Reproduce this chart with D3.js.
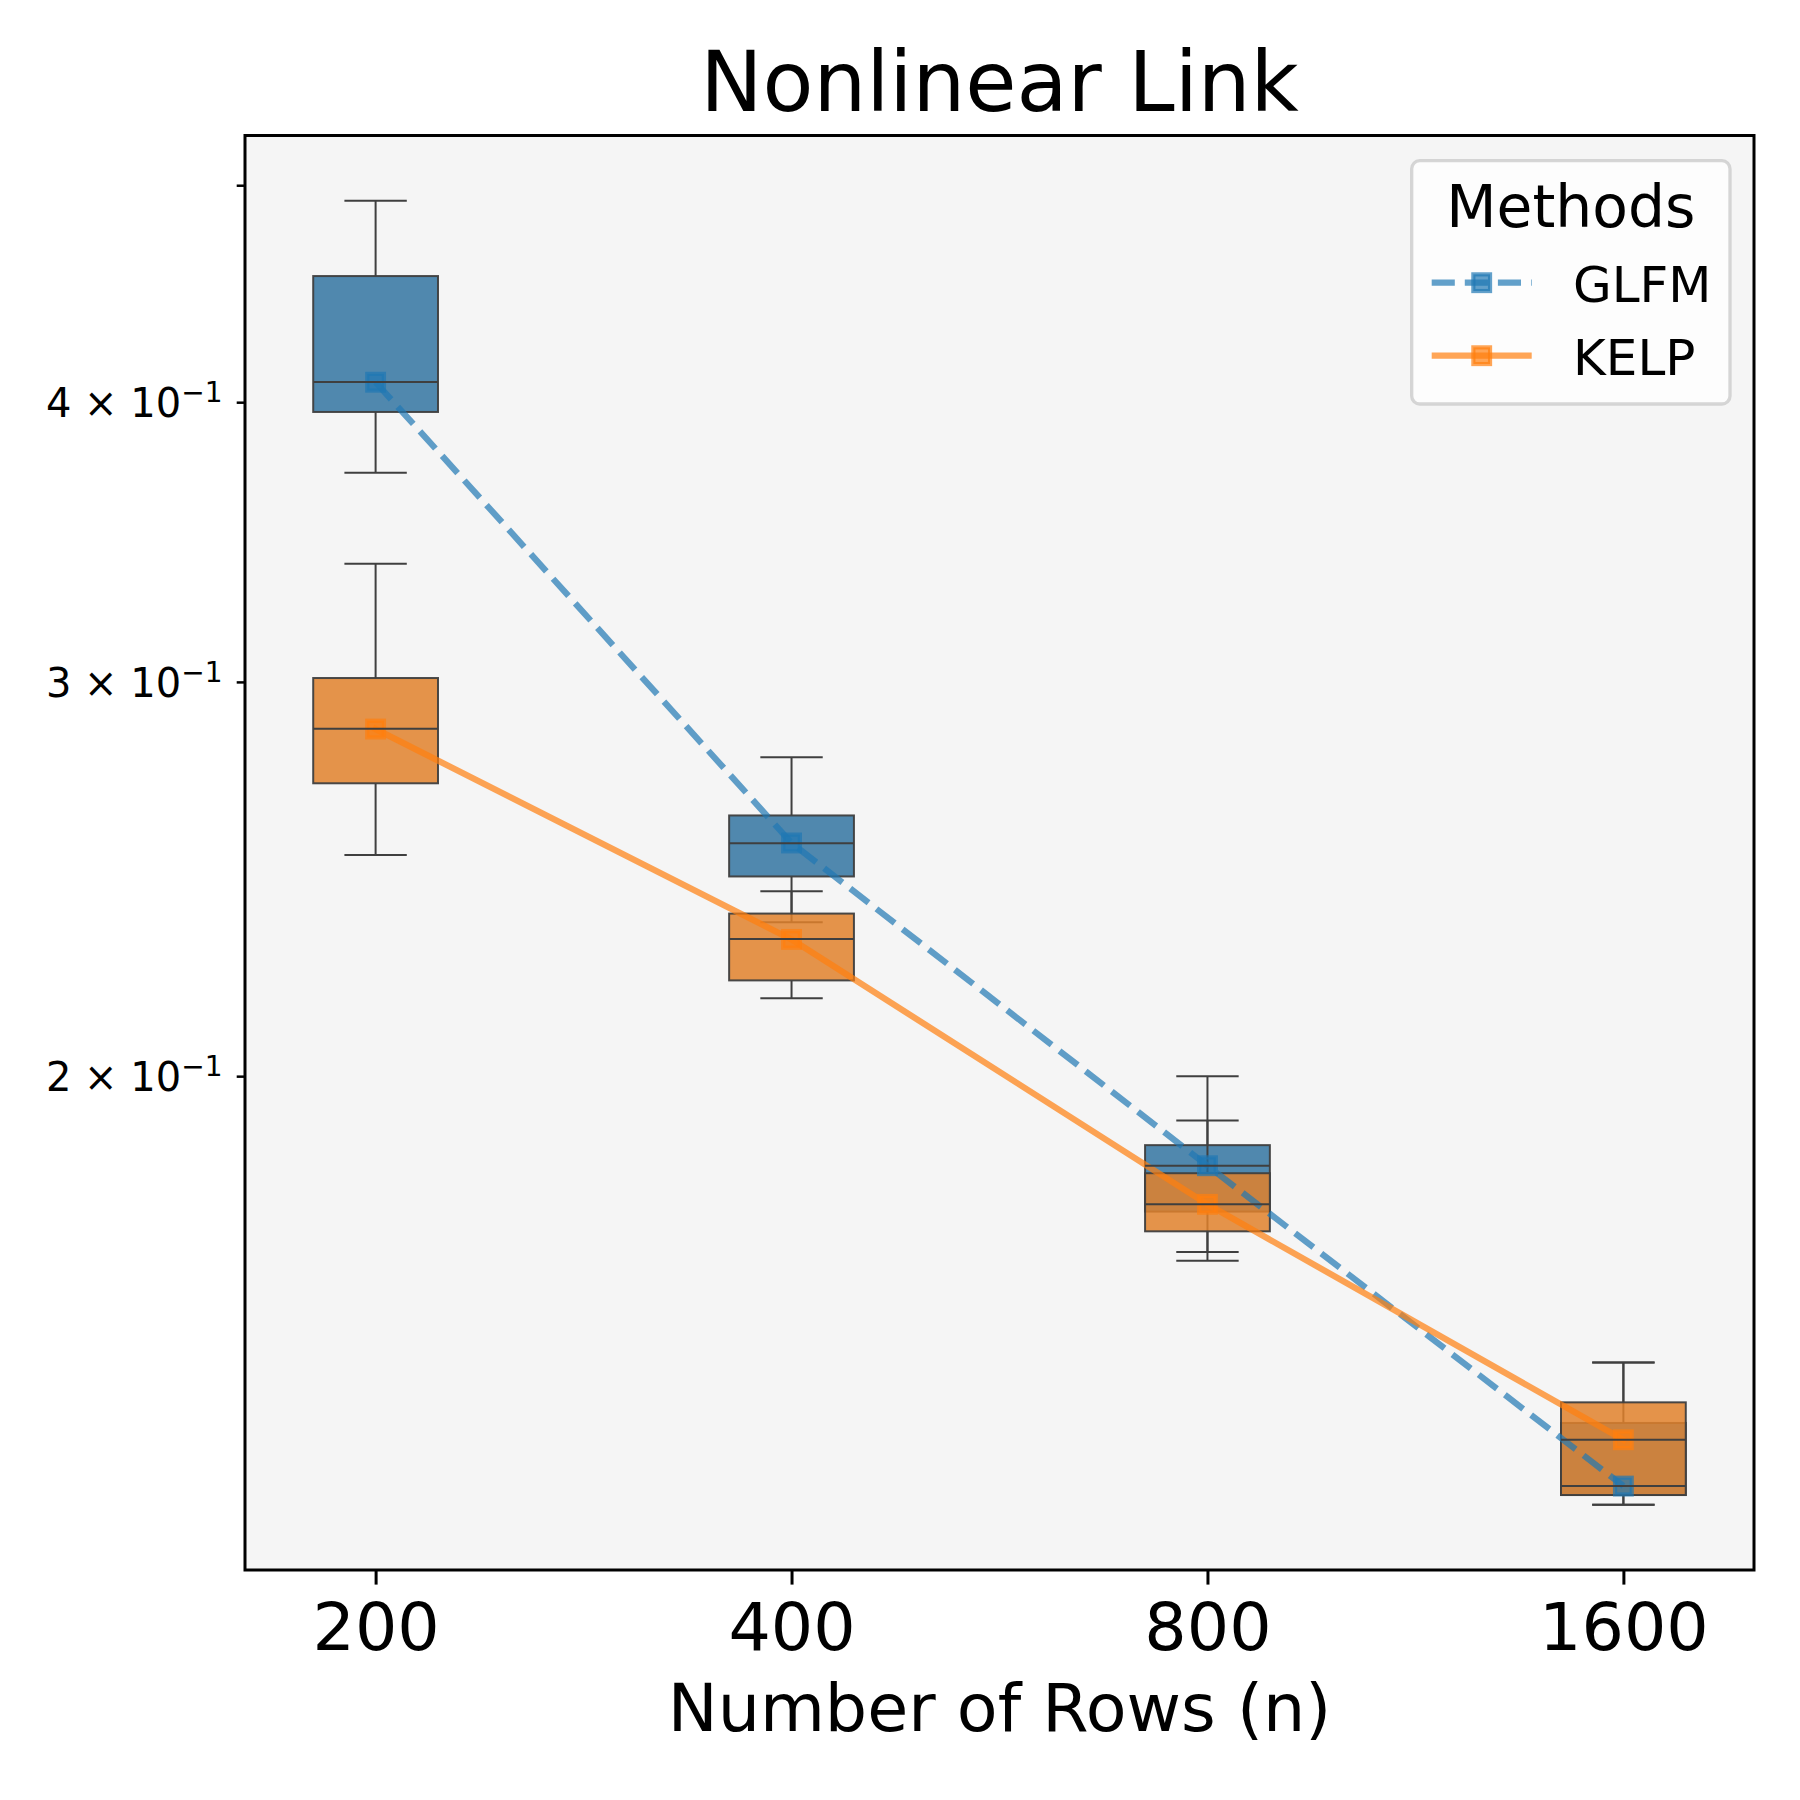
<!DOCTYPE html>
<html>
<head>
<meta charset="utf-8">
<script src="https://cdn.jsdelivr.net/npm/d3@7"></script>
<style>
  body { margin: 0; background: #ffffff; }
  text { font-family: "DejaVu Sans", sans-serif; }
</style>
</head>
<body>
<svg id="chart" width="1800" height="1800"></svg>
<script>
// ---------- data ----------
const categories = ["200", "400", "800", "1600"];
const methods = ["GLFM", "KELP"];

const glfmWhiskerLow  = [0.3720, 0.2343, 0.1669, 0.1287];
const glfmQ1          = [0.3960, 0.2456, 0.1740, 0.1300];
const glfmMedian      = [0.4084, 0.2541, 0.1824, 0.1312];
const glfmQ3          = [0.4554, 0.2615, 0.1863, 0.1400];
const glfmWhiskerHigh = [0.4921, 0.2776, 0.2000, 0.1490];
const glfmLine        = [0.4083, 0.2542, 0.1824, 0.1312];

const kelpWhiskerLow  = [0.2511, 0.2167, 0.1654, 0.1287];
const kelpQ1          = [0.2703, 0.2207, 0.1705, 0.1300];
const kelpMedian      = [0.2859, 0.2303, 0.1753, 0.1376];
const kelpQ3          = [0.3012, 0.2364, 0.1810, 0.1430];
const kelpWhiskerHigh = [0.3388, 0.2419, 0.1911, 0.1490];
const kelpLine        = [0.2858, 0.2302, 0.1753, 0.1376];

const yTickValues = [0.2, 0.3, 0.4, 0.5];
const yTickMantissa = ["2", "3", "4", ""];
const yTickExponent = ["−1", "−1", "−1", ""];

const titleText = "Nonlinear Link";
const xLabelText = "Number of Rows (n)";
const legendTitle = "Methods";

// ---------- layout ----------
const svg = d3.select("#chart");
const L = 245, R = 1754, T = 135.5, B = 1570;

const boxColors  = { GLFM: "#3274a1", KELP: "#e1812c" };
const lineColors = { GLFM: "#1f77b4", KELP: "#ff7f0e" };
const edgeColor = "#3f3f3f";

const series = {
  GLFM: { lo: glfmWhiskerLow, q1: glfmQ1, med: glfmMedian, q3: glfmQ3, hi: glfmWhiskerHigh, line: glfmLine },
  KELP: { lo: kelpWhiskerLow, q1: kelpQ1, med: kelpMedian, q3: kelpQ3, hi: kelpWhiskerHigh, line: kelpLine }
};

// scales
const x = d3.scalePoint().domain(categories).range([L, R]).padding(0.314);
const allVals = methods.flatMap(m => [...series[m].lo, ...series[m].hi]);
const lmin = Math.log10(d3.min(allVals)), lmax = Math.log10(d3.max(allVals));
const pad = (lmax - lmin) * 0.05;
const y = d3.scaleLog().domain([Math.pow(10, lmin - pad), Math.pow(10, lmax + pad)]).range([B, T]);

const boxW = x.step() * 0.30;

// background
svg.append("rect").attr("x", 0).attr("y", 0).attr("width", 1800).attr("height", 1800).attr("fill", "#ffffff");
svg.append("rect").attr("x", L).attr("y", T).attr("width", R - L).attr("height", B - T).attr("fill", "#f5f5f5");

const plot = svg.append("g");

// boxes (whiskers, caps, box) per category, GLFM then KELP
categories.forEach((c, i) => {
  methods.forEach(m => {
    const s = series[m];
    const cx = x(c);
    const g = plot.append("g");
    // whiskers
    g.append("line").attr("x1", cx).attr("x2", cx).attr("y1", y(s.q1[i])).attr("y2", y(s.lo[i]))
      .attr("stroke", edgeColor).attr("stroke-width", 2);
    g.append("line").attr("x1", cx).attr("x2", cx).attr("y1", y(s.q3[i])).attr("y2", y(s.hi[i]))
      .attr("stroke", edgeColor).attr("stroke-width", 2);
    // caps
    [s.lo[i], s.hi[i]].forEach(v => {
      g.append("line").attr("x1", cx - boxW / 4).attr("x2", cx + boxW / 4).attr("y1", y(v)).attr("y2", y(v))
        .attr("stroke", edgeColor).attr("stroke-width", 2);
    });
    // box
    g.append("rect").attr("x", cx - boxW / 2).attr("width", boxW)
      .attr("y", y(s.q3[i])).attr("height", y(s.q1[i]) - y(s.q3[i]))
      .attr("fill", boxColors[m]).attr("fill-opacity", 0.85)
      .attr("stroke", edgeColor).attr("stroke-width", 2).attr("stroke-opacity", 0.95);
  });
});

// lines with square markers
const lineGen = d3.line().x(d => x(d.c)).y(d => y(d.v));
const markerSide = 16.7;
methods.forEach(m => {
  const pts = categories.map((c, i) => ({ c, v: series[m].line[i] }));
  plot.append("path").datum(pts).attr("d", lineGen)
    .attr("fill", "none").attr("stroke", lineColors[m]).attr("stroke-opacity", 0.7)
    .attr("stroke-width", 6.25)
    .attr("stroke-linejoin", "round")
    .attr("stroke-linecap", m === "GLFM" ? "butt" : "square")
    .attr("stroke-dasharray", m === "GLFM" ? "23.1,10" : null);
  plot.selectAll(null).data(pts).enter().append("rect")
    .attr("x", d => x(d.c) - markerSide / 2).attr("y", d => y(d.v) - markerSide / 2)
    .attr("width", markerSide).attr("height", markerSide)
    .attr("fill", lineColors[m]).attr("fill-opacity", 0.7)
    .attr("stroke", lineColors[m]).attr("stroke-opacity", 0.7).attr("stroke-width", 4.17);
});

// medians on top
categories.forEach((c, i) => {
  methods.forEach(m => {
    const cx = x(c), v = series[m].med[i];
    plot.append("line").attr("x1", cx - boxW / 2).attr("x2", cx + boxW / 2).attr("y1", y(v)).attr("y2", y(v))
      .attr("stroke", edgeColor).attr("stroke-width", 2);
  });
});

// spines
svg.append("rect").attr("x", L).attr("y", T).attr("width", R - L).attr("height", B - T)
  .attr("fill", "none").attr("stroke", "#000").attr("stroke-width", 3);

// x axis
const xAxis = svg.append("g").attr("transform", `translate(0,${B})`)
  .call(d3.axisBottom(x).tickSize(14.6).tickPadding(18));
xAxis.select(".domain").remove();
xAxis.selectAll(".tick line").attr("stroke", "#000").attr("stroke-width", 3);
xAxis.selectAll(".tick text").attr("font-size", 66.7).attr("fill", "#000")
  .attr("font-family", "DejaVu Sans").attr("y", 80).attr("dy", null);

// y axis (log minor ticks)
const yAxis = svg.append("g").attr("transform", `translate(${L},0)`)
  .call(d3.axisLeft(y).tickValues(yTickValues).tickSize(8.3).tickPadding(14).tickFormat(() => ""));
yAxis.select(".domain").remove();
yAxis.selectAll(".tick line").attr("stroke", "#000").attr("stroke-width", 2.5);
yAxis.selectAll(".tick").each(function (d, i) {
  if (!yTickMantissa[i]) return;
  const t = d3.select(this).select("text")
    .attr("x", -22.5).attr("y", 14.4).attr("dy", null)
    .attr("text-anchor", "end").attr("font-size", 40).attr("fill", "#000")
    .attr("font-family", "DejaVu Sans");
  t.text(null);
  t.append("tspan").text(yTickMantissa[i] + " × 10");
  t.append("tspan").attr("font-size", 28).attr("dy", -15).text(yTickExponent[i]);
});

// title and x label
svg.append("text").attr("x", (L + R) / 2).attr("y", 111).attr("text-anchor", "middle")
  .attr("font-size", 83.3).attr("fill", "#000").text(titleText);
svg.append("text").attr("x", (L + R) / 2).attr("y", 1731).attr("text-anchor", "middle")
  .attr("font-size", 66.7).attr("fill", "#000").text(xLabelText);

// legend
const lg = svg.append("g");
lg.append("rect").attr("x", 1411.7).attr("y", 160.7).attr("width", 318.3).attr("height", 243.3)
  .attr("rx", 8).attr("ry", 8)
  .attr("fill", "#ffffff").attr("fill-opacity", 0.8)
  .attr("stroke", "#cccccc").attr("stroke-opacity", 0.8).attr("stroke-width", 3.3);
lg.append("text").attr("x", 1570.8).attr("y", 226.7).attr("text-anchor", "middle")
  .attr("font-size", 58.3).attr("fill", "#000").text(legendTitle);
const legendRowY = d3.scalePoint().domain(methods).range([282.7, 355.7]);
methods.forEach(m => {
  const yy = legendRowY(m);
  lg.append("line").attr("x1", 1431.7).attr("x2", 1531.7).attr("y1", yy).attr("y2", yy)
    .attr("stroke", lineColors[m]).attr("stroke-opacity", 0.7).attr("stroke-width", 6.25)
    .attr("stroke-linecap", "butt")
    .attr("stroke-dasharray", m === "GLFM" ? "23.1,10" : null);
  lg.append("rect").attr("x", 1481.7 - markerSide / 2).attr("y", yy - markerSide / 2)
    .attr("width", markerSide).attr("height", markerSide)
    .attr("fill", lineColors[m]).attr("fill-opacity", 0.7)
    .attr("stroke", lineColors[m]).attr("stroke-opacity", 0.7).attr("stroke-width", 4.17);
  lg.append("text").attr("x", 1573).attr("y", yy + 19).attr("font-size", 50).attr("fill", "#000").text(m);
});
</script>
</body>
</html>
